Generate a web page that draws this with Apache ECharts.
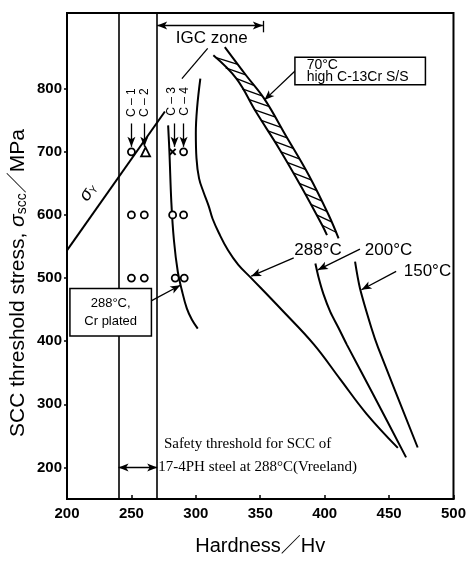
<!DOCTYPE html>
<html><head><meta charset="utf-8">
<script src="https://cdn.jsdelivr.net/npm/echarts@6/dist/echarts.min.js"></script>
<style>html,body{margin:0;padding:0;background:#fff}#c{width:469px;height:561px}</style>
</head><body><div id="c"></div>
<script>
// ---- data ----
const xTicks = [200, 250, 300, 350, 400, 450, 500];
const yTicks = [200, 300, 400, 500, 600, 700, 800];
const zoneBounds = [240, 270];
const yieldLine = [[200, 544], [276, 764]];
const crPlated = [[278.5, 742], [279.5, 700], [281, 620], [283, 560], [286, 510], [289, 482], [293, 452], [297, 434], [301.5, 420]];
const curve288 = [[303.5, 816], [301, 770], [300, 730], [300.5, 690], [302.5, 658], [306, 636], [310, 614], [313, 594], [318, 571], [325, 544], [333, 521], [343, 500], [367, 449], [391.6, 395], [412, 340], [432.5, 285], [456.8, 231]];
const curve200 = [[392.8, 523], [395.4, 500], [399, 475], [404.3, 447], [410.8, 421], [417.1, 395], [437.6, 316], [463.2, 216]];
const curve150 = [[423.6, 526], [427.4, 484], [436.3, 421], [441.5, 390], [472.2, 231.6]];
const bandLower = [[313.6, 853], [331.5, 816], [346.8, 763], [364.7, 705], [382.6, 642], [398, 584], [401.8, 568]];
const bandUpper = [[322.5, 866], [339.1, 821], [353.2, 784], [369.8, 726], [387.7, 663], [403.1, 600], [410.8, 563]];
const circlePts = [[250, 700], [290.5, 700], [250, 600], [260, 600], [282, 600], [290.5, 600], [250, 500], [260, 500], [284, 500], [291, 500]];
const trianglePts = [[261, 700]];
const crossPts = [[282, 700]];
const specimenLabels = ['C – 1', 'C – 2', 'C – 3', 'C – 4'];
const specimenX = [250, 260, 281, 291];
const tempLabels = ['288°C', '200°C', '150°C'];
const zoneLabel = 'IGC zone';
const crBoxLines = ['288°C,', 'Cr plated'];
const ssBoxLines = ['70°C', 'high C-13Cr S/S'];
const safetyLines = ['Safety threshold for SCC of', '17-4PH steel at 288°C(Vreeland)'];

// ---- rendering ----
const FONT = '"Liberation Sans", Arial, "Noto Sans CJK JP", sans-serif';
const SERIF = '"Liberation Serif", "DejaVu Serif", serif';
const BLACK = '#000';

function curve(data, smooth, w) {
  return { type: 'line', data: data, smooth: smooth, symbol: 'none', silent: true, z: 3,
    lineStyle: { color: BLACK, width: w || 2 } };
}
function seg(a, b, s0, s1) {
  return [{ coord: a, symbol: s0 }, { coord: b, symbol: s1 }];
}
function note(pos, text, extra) {
  return { value: pos, label: Object.assign({ show: true, formatter: text, position: 'inside',
    color: BLACK, fontFamily: FONT, fontSize: 17 }, extra || {}) };
}

const arrows = [
  seg([specimenX[0], 745], [250, 708], 'none', 'arrow'),
  seg([specimenX[1], 745], [260, 708], 'none', 'arrow'),
  seg([283.5, 745], [283.5, 708], 'none', 'arrow'),
  seg([290.5, 745], [290.5, 708], 'none', 'arrow'),
  seg([376, 532], [343, 503], 'none', 'arrow'),
  seg([427.4, 546], [394.7, 513], 'none', 'arrow'),
  seg([455.5, 510.6], [428.6, 481.5], 'none', 'arrow'),
  seg([265, 463.5], [288, 488.7], 'none', 'arrow'),
  seg([377.4, 829], [353.2, 782], 'none', 'arrow'),
  seg([zoneBounds[1], 900], [352, 900], 'arrow', 'arrow'),
  seg([zoneBounds[0], 200], [zoneBounds[1], 200], 'arrow', 'arrow'),
  seg([309.2, 864], [289.2, 816], 'none', 'none'),
  seg([352, 907.6], [352, 889.4], 'none', 'none')
];

const notes = [
  note([250, 778], specimenLabels[0], { rotate: 90, fontSize: 12 }),
  note([260, 778], specimenLabels[1], { rotate: 90, fontSize: 12 }),
  note([281, 780], specimenLabels[2], { rotate: 90, fontSize: 12 }),
  note([291, 780], specimenLabels[3], { rotate: 90, fontSize: 12 }),
  note([394.8, 543.4], tempLabels[0]),
  note([449.6, 543.4], tempLabels[1]),
  note([479.8, 510.6], tempLabels[2]),
  note([312.3, 880.3], zoneLabel),
  note([216.5, 636], '{s|σ}{y|Y}', { rotate: 54.6, rich: { s: { fontSize: 18, fontStyle: 'italic', fontFamily: FONT, color: BLACK }, y: { fontSize: 10, padding: [7, 0, 0, 0], fontFamily: FONT, color: BLACK } } }),
  note([233.9, 445.8], crBoxLines.join('\n'), { fontSize: 13, lineHeight: 18, backgroundColor: '#fff', borderColor: BLACK, borderWidth: 1.5, padding: [5, 5, 5, 5], width: 70, align: 'center' }),
  note([377.5, 828], ssBoxLines.join('\n'), { fontSize: 14, lineHeight: 11.5, backgroundColor: '#fff', borderColor: BLACK, borderWidth: 1.5, padding: [2, 4, 1, 11], width: 114, align: 'left', position: 'right', distance: 0 }),
  note([275.2, 237.6], safetyLines[0], { fontFamily: SERIF, fontSize: 15, position: 'right', distance: 0 }),
  note([270.8, 200.4], safetyLines[1], { fontFamily: SERIF, fontSize: 15, position: 'right', distance: 0 })
];

const option = {
  animation: false,
  backgroundColor: '#fff',
  grid: { left: 67, right: 11, top: 13, bottom: 60, show: true, borderColor: BLACK, borderWidth: 2, backgroundColor: 'transparent' },
  xAxis: {
    type: 'value', min: xTicks[0], max: xTicks[xTicks.length - 1], interval: 50,
    axisLine: { lineStyle: { color: BLACK, width: 2 } },
    axisTick: { inside: true, length: 4, lineStyle: { color: BLACK, width: 1.5 } },
    axisLabel: { color: BLACK, fontSize: 15, fontFamily: FONT, margin: 7, fontWeight: 'bold' },
    splitLine: { show: false },
    name: 'Hardness／Hv', nameLocation: 'middle', nameGap: 37,
    nameTextStyle: { color: BLACK, fontSize: 20, fontFamily: FONT }
  },
  yAxis: {
    type: 'value', min: 150, max: 920,
    axisLine: { lineStyle: { color: BLACK, width: 2 } },
    axisTick: { length: 3, customValues: yTicks, lineStyle: { color: BLACK, width: 1.5 } },
    axisLabel: { color: BLACK, fontSize: 15, fontFamily: FONT, margin: 5, customValues: yTicks, fontWeight: 'bold' },
    splitLine: { show: false }
  },
  graphic: [{
    type: 'text', x: 18.5, y: 283, rotation: Math.PI / 2,
    style: {
      text: 'SCC threshold stress, {s|σ}{sub|scc}／MPa', align: 'center', verticalAlign: 'middle',
      fill: BLACK, fontSize: 21, fontFamily: FONT,
      rich: { s: { fontSize: 21, fontStyle: 'italic', fontFamily: FONT, fill: BLACK }, sub: { fontSize: 14, padding: [7, 0, 0, 0], fontFamily: FONT, fill: BLACK } }
    }
  }],
  series: [
    Object.assign(curve(yieldLine, false), {
      markLine: { silent: true, symbol: ['none', 'arrow'], symbolSize: [6, 10], label: { show: false },
        lineStyle: { color: BLACK, width: 1.3, type: 'solid', opacity: 1 }, data: arrows }
    }),
    { type: 'line', data: [], markLine: { silent: true, symbol: ['none', 'none'], label: { show: false },
        lineStyle: { color: BLACK, width: 1.6, type: 'solid', opacity: 1 }, data: zoneBounds.map(v => ({ xAxis: v })) } },
    curve(crPlated, 0.4),
    curve(curve288, 0.4),
    curve(curve200, 0.3),
    curve(curve150, 0.3),
    curve(bandLower, 0.4),
    curve(bandUpper, 0.4),
    {
      type: 'custom', coordinateSystem: 'cartesian2d', silent: true, z: 3,
      data: [bandLower[0]],
      renderItem: function (params, api) {
        const L = bandLower.map(p => api.coord(p));
        const U = bandUpper.map(p => api.coord(p));
        const xAt = (poly, y) => {
          for (let i = 0; i < poly.length - 1; i++) {
            const a = poly[i], b = poly[i + 1];
            if (y >= a[1] && y <= b[1]) { const t = (y - a[1]) / (b[1] - a[1]); return a[0] + t * (b[0] - a[0]); }
          }
          return null;
        };
        const drop = 7, step = 10.5;
        const children = [];
        for (let y = L[0][1] + 2; y + drop <= U[U.length - 1][1] && y <= L[L.length - 1][1]; y += step) {
          const xl = xAt(L, y), xr = xAt(U, y + drop);
          if (xl != null && xr != null) children.push({ type: 'line', shape: { x1: xl, y1: y, x2: xr, y2: y + drop }, style: { stroke: BLACK, lineWidth: 1.3 } });
        }
        return { type: 'group', children: children };
      }
    },
    { type: 'scatter', data: circlePts, symbol: 'circle', symbolSize: 7, silent: true, z: 4,
      itemStyle: { color: '#fff', borderColor: BLACK, borderWidth: 1.8, opacity: 1 } },
    { type: 'scatter', data: trianglePts, symbol: 'triangle', symbolSize: 9, silent: true, z: 4,
      itemStyle: { color: '#fff', borderColor: BLACK, borderWidth: 1.8, opacity: 1 } },
    { type: 'scatter', data: crossPts, symbol: 'path://M0,0L10,10M10,0L0,10', symbolSize: 6, silent: true, z: 4,
      itemStyle: { color: 'none', borderColor: BLACK, borderWidth: 2, opacity: 1 } },
    { type: 'scatter', data: notes, symbolSize: 0, silent: true, z: 10, itemStyle: { opacity: 1 } }
  ]
};
const chart = echarts.init(document.getElementById('c'));
chart.setOption(option);
</script>
</body></html>
